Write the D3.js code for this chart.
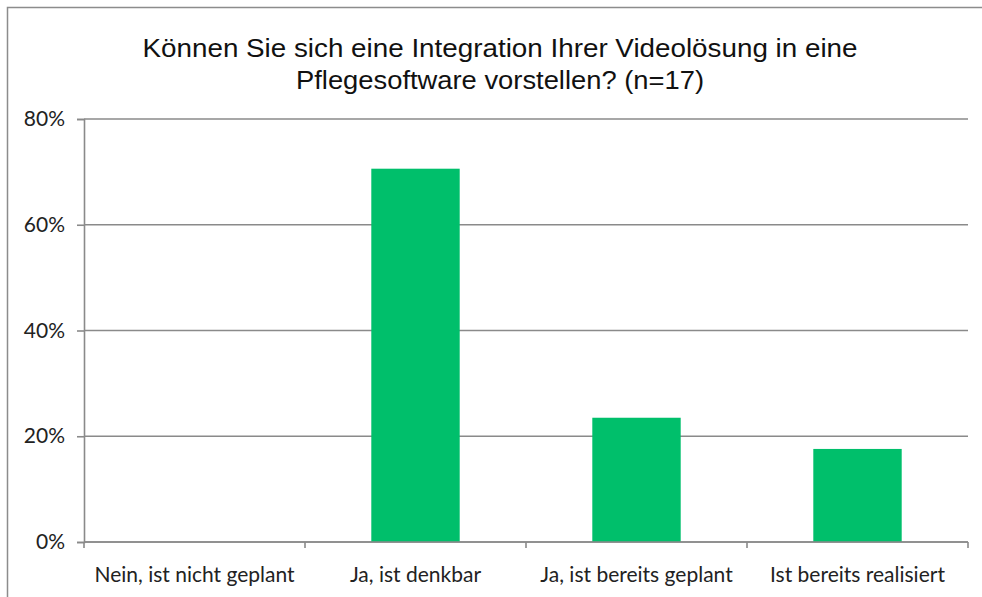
<!DOCTYPE html>
<html>
<head>
<meta charset="utf-8">
<script src="https://cdn.jsdelivr.net/npm/d3@7"></script>
<style>
  body { margin: 0; background: #fff; }
</style>
</head>
<body>
<div id="chart"></div>
<script>
const categories = ["Nein, ist nicht geplant", "Ja, ist denkbar", "Ja, ist bereits geplant", "Ist bereits realisiert"];
const values = [0, 0.706, 0.235, 0.176];
const yTicks = [0, 0.2, 0.4, 0.6, 0.8];
const titleLines = ["Können Sie sich eine Integration Ihrer Videolösung in eine", "Pflegesoftware vorstellen? (n=17)"];
const titleWidths = [715, 408];

const width = 982, height = 597;
const marginTop = 119, marginRight = 14, marginBottom = 55, marginLeft = 84;

const svg = d3.select("#chart")
    .append("svg")
    .attr("width", width)
    .attr("height", height);

// outer frame
svg.append("path")
    .attr("d", `M7.5,${height} V7.5 H${width}`)
    .attr("fill", "none")
    .attr("stroke", "#8c8c8c")
    .attr("stroke-width", 1.5);

// title (narrow font, stretched to match width)
svg.append("g")
    .selectAll("text")
    .data(titleLines)
    .join("text")
    .attr("x", 500)
    .attr("y", (d, i) => 57 + i * 32)
    .attr("text-anchor", "middle")
    .attr("font-family", "'Liberation Sans Narrow', 'Liberation Sans', Arial, sans-serif")
    .attr("font-size", 26)
    .attr("fill", "#111")
    .attr("textLength", (d, i) => titleWidths[i])
    .attr("lengthAdjust", "spacingAndGlyphs")
    .text(d => d);

const x = d3.scaleBand()
    .domain(categories)
    .range([marginLeft, width - marginRight])
    .paddingInner(0.6)
    .paddingOuter(0.3);

const y = d3.scaleLinear()
    .domain([0, 0.8])
    .range([height - marginBottom, marginTop]);

// gridlines
svg.append("g")
    .selectAll("line")
    .data(yTicks)
    .join("line")
    .attr("x1", marginLeft)
    .attr("x2", width - marginRight)
    .attr("y1", d => y(d))
    .attr("y2", d => y(d))
    .attr("stroke", "#8a8a8a")
    .attr("stroke-width", 1.6);

// y axis
const yAxis = svg.append("g")
    .attr("transform", `translate(${marginLeft},0)`)
    .call(d3.axisLeft(y).tickValues(yTicks).tickFormat(d3.format(".0%")).tickSize(7).tickPadding(12));
yAxis.select(".domain").attr("stroke", "#8a8a8a").attr("stroke-width", 1.6);
yAxis.selectAll(".tick line").attr("stroke", "#8a8a8a").attr("stroke-width", 1.6);
yAxis.selectAll("text")
    .attr("font-family", "Lato, 'Open Sans', sans-serif")
    .attr("font-size", 21)
    .attr("fill", "#222");

// bars
svg.append("g")
    .selectAll("rect")
    .data(values)
    .join("rect")
    .attr("x", (d, i) => x(categories[i]))
    .attr("y", d => y(d))
    .attr("width", x.bandwidth())
    .attr("height", d => y(0) - y(d))
    .attr("fill", "#00bf6b");

// x axis
const step = (width - marginRight - marginLeft) / categories.length;
const xAxis = svg.append("g")
    .attr("transform", `translate(0,${y(0)})`);
xAxis.append("line")
    .attr("x1", marginLeft)
    .attr("x2", width - marginRight)
    .attr("stroke", "#8a8a8a")
    .attr("stroke-width", 1.6);
xAxis.selectAll(".sep")
    .data(d3.range(categories.length + 1))
    .join("line")
    .attr("class", "sep")
    .attr("x1", i => marginLeft + i * step)
    .attr("x2", i => marginLeft + i * step)
    .attr("y1", 0)
    .attr("y2", 6)
    .attr("stroke", "#8a8a8a")
    .attr("stroke-width", 1.6);
xAxis.selectAll(".lbl")
    .data(categories)
    .join("text")
    .attr("class", "lbl")
    .attr("x", d => x(d) + x.bandwidth() / 2)
    .attr("y", 40)
    .attr("text-anchor", "middle")
    .attr("font-family", "Lato, 'Open Sans', sans-serif")
    .attr("font-size", 21)
    .attr("fill", "#222")
    .text(d => d);
</script>
</body>
</html>
